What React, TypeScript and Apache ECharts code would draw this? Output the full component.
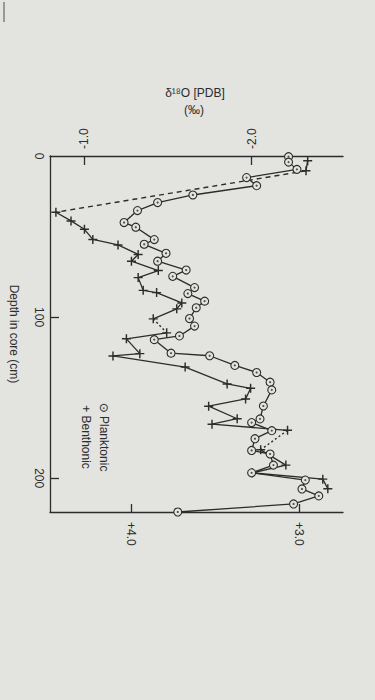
import React, { useEffect, useRef } from "react";
import * as echarts from "echarts";

// Depth in core (cm) and δ18O (‰ PDB)
const planktonicDepth = [0.4, 3.8, 8.3, 13.4, 18.4, 24.2, 28.9, 33.9, 41.3, 44.2, 51.9, 54.8, 60.4, 65.3, 70.8, 74.7, 81.7, 85.4, 90.1, 94.2, 100.9, 105.6, 111.7, 114.0, 122.4, 124.0, 130.0, 134.4, 140.4, 145.2, 155.2, 163.2, 165.5, 170.5, 175.5, 182.8, 185.0, 191.9, 196.7, 201.2, 206.7, 211.0, 216.0, 221.0];
const planktonicValue = [-2.22, -2.22, -2.27, -1.97, -2.03, -1.65, -1.44, -1.32, -1.24, -1.31, -1.42, -1.36, -1.49, -1.44, -1.61, -1.53, -1.66, -1.62, -1.72, -1.67, -1.63, -1.66, -1.57, -1.42, -1.52, -1.75, -1.90, -2.03, -2.11, -2.12, -2.07, -2.05, -2.00, -2.12, -2.02, -2.00, -2.11, -2.13, -2.00, -2.32, -2.30, -2.40, -2.25, -1.56];

const benthicDepth = [2.9, 9.2, 34.9, 40.3, 45.5, 51.8, 55.2, 61.1, 65.3, 71.1, 75.5, 83.4, 84.8, 91.2, 94.9, 101.1, 109.8, 113.5, 122.7, 124.1, 131.0, 141.5, 144.2, 150.8, 155.3, 163.1, 166.5, 170.3, 182.4, 191.9, 196.7, 200.6, 206.6];
const benthicValue = [2.95, 2.96, 4.45, 4.36, 4.28, 4.23, 4.08, 3.96, 4.0, 3.84, 3.96, 3.93, 3.85, 3.70, 3.73, 3.87, 3.79, 4.03, 3.95, 4.11, 3.68, 3.43, 3.29, 3.32, 3.54, 3.37, 3.52, 3.07, 3.23, 3.08, 3.28, 2.86, 2.83];
// missing-sample gaps (after these indices) drawn dashed / dotted
const benthicGaps = [1, 15, 27];

const depthLabelValues = [0, 100, 200];
const depthTickValues = [100, 200];
const planktonicTicks = [-1.0, -2.0];
const planktonicTickLabels = ["-1.0", "-2.0"];
const benthicTicks = [3.0, 4.0];
const benthicTickLabels = ["+3.0", "+4.0"];

const INK = "#2c2c2c";
const BG = "#e3e3e0";
const FONT = "'Liberation Sans', Arial, 'DejaVu Sans', sans-serif";
const PLUS = "path://M4.2,0 L5.8,0 L5.8,4.2 L10,4.2 L10,5.8 L5.8,5.8 L5.8,10 L4.2,10 L4.2,5.8 L0,5.8 L0,4.2 L4.2,4.2 Z";

function labelFor(values: number[], labels: string[]) {
  return (v: number) => {
    let best = 0;
    for (let i = 1; i < values.length; i++) {
      if (Math.abs(values[i] - v) < Math.abs(values[best] - v)) best = i;
    }
    return labels[best];
  };
}

export default function App() {
  const ref = useRef<HTMLDivElement>(null);

  useEffect(() => {
    if (!ref.current) return;
    const chart = echarts.init(ref.current, null, { renderer: "svg" });

    const planktonic = planktonicDepth.map((d, i) => [planktonicValue[i], d]);
    const benthic = benthicDepth.map((d, i) => [benthicValue[i], d]);

    const segments: number[][][] = [];
    let start = 0;
    benthicGaps.forEach((g) => {
      segments.push(benthic.slice(start, g + 1));
      start = g + 1;
    });
    segments.push(benthic.slice(start));

    const benthicSeries: any[] = segments.map((seg) => ({
      type: "line",
      name: "Benthonic",
      xAxisIndex: 1,
      yAxisIndex: 0,
      data: seg,
      symbol: PLUS,
      symbolSize: 9,
      lineStyle: { color: INK, width: 1.3 },
      itemStyle: { color: INK },
      z: 3,
      silent: true,
    }));

    const gapSeries: any[] = benthicGaps.map((g, k) => ({
      type: "line",
      xAxisIndex: 1,
      yAxisIndex: 0,
      data: [benthic[g], benthic[g + 1]],
      showSymbol: false,
      symbol: "none",
      lineStyle: { color: INK, width: 1.4, type: k === 0 ? [5, 4] : [2, 2.5] },
      z: 2,
      silent: true,
    }));

    chart.setOption({
      animation: false,
      backgroundColor: BG,
      grid: { left: 48, top: 156, width: 295, height: 356, containLabel: false },
      xAxis: [
        {
          type: "value",
          position: "top",
          min: -2.5444,
          max: -0.7988,
          inverse: true,
          splitLine: { show: false },
          axisLine: { show: true, onZero: false, lineStyle: { color: INK, width: 1.3 } },
          axisTick: { show: true, inside: true, length: 9, customValues: planktonicTicks, lineStyle: { color: INK, width: 1.3 } },
          axisLabel: {
            customValues: planktonicTicks,
            formatter: labelFor(planktonicTicks, planktonicTickLabels),
            rotate: -90,
            margin: 7,
            fontSize: 12,
            color: INK,
            fontFamily: FONT,
          },
        },
        {
          type: "value",
          position: "bottom",
          min: 2.7396,
          max: 4.4852,
          inverse: true,
          splitLine: { show: false },
          axisLine: { show: true, onZero: false, lineStyle: { color: INK, width: 1.3 } },
          axisTick: { show: true, inside: true, length: 8, customValues: benthicTicks, lineStyle: { color: INK, width: 1.3 } },
          axisLabel: {
            customValues: benthicTicks,
            formatter: labelFor(benthicTicks, benthicTickLabels),
            rotate: -90,
            margin: 10,
            fontSize: 12,
            color: INK,
            fontFamily: FONT,
          },
        },
      ],
      yAxis: [
        {
          type: "value",
          min: 0,
          max: 221,
          inverse: true,
          splitLine: { show: false },
          name: "Depth in core (cm)",
          nameLocation: "middle",
          nameRotate: -90,
          nameGap: 30,
          nameTextStyle: { fontSize: 12, color: INK, fontFamily: FONT },
          axisLine: { show: true, onZero: false, lineStyle: { color: INK, width: 1.3 } },
          axisTick: { show: true, inside: true, length: 9, customValues: depthTickValues, lineStyle: { color: INK, width: 1.3 } },
          axisLabel: {
            customValues: depthLabelValues,
            rotate: -90,
            margin: 5,
            fontSize: 12,
            color: INK,
            fontFamily: FONT,
          },
        },
      ],
      series: [
        ...gapSeries,
        ...benthicSeries,
        {
          type: "line",
          name: "Planktonic",
          xAxisIndex: 0,
          yAxisIndex: 0,
          data: planktonic,
          symbol: "circle",
          symbolSize: 8,
          lineStyle: { color: INK, width: 1.3 },
          itemStyle: { color: BG, borderColor: INK, borderWidth: 1.1 },
          z: 4,
          silent: true,
        },
        {
          type: "scatter",
          xAxisIndex: 0,
          yAxisIndex: 0,
          data: planktonic,
          symbol: "circle",
          symbolSize: 2.2,
          itemStyle: { color: INK },
          z: 5,
          silent: true,
        },
      ],
      graphic: [
        {
          type: "line",
          shape: { x1: 4, y1: 2, x2: 4, y2: 22 },
          style: { stroke: "#666", lineWidth: 1.2 },
        },
        {
          type: "text",
          x: 195,
          y: 93,
          style: { text: "δ¹⁸O [PDB]", fontSize: 12, fill: INK, fontFamily: FONT, textAlign: "center", textVerticalAlign: "middle" },
        },
        {
          type: "text",
          x: 194,
          y: 110,
          style: { text: "(‰)", fontSize: 12, fill: INK, fontFamily: FONT, textAlign: "center", textVerticalAlign: "middle" },
        },
        {
          type: "text",
          x: 104,
          y: 437,
          rotation: -Math.PI / 2,
          style: { text: "⊙ Planktonic", fontSize: 12, fill: INK, fontFamily: FONT, textAlign: "center", textVerticalAlign: "middle" },
        },
        {
          type: "text",
          x: 86,
          y: 437,
          rotation: -Math.PI / 2,
          style: { text: "+ Benthonic", fontSize: 12, fill: INK, fontFamily: FONT, textAlign: "center", textVerticalAlign: "middle" },
        },
      ],
    });

    return () => chart.dispose();
  }, []);

  return (
    <div
      ref={ref}
      style={{ position: "absolute", left: 0, top: 0, width: 375, height: 700 }}
    />
  );
}
